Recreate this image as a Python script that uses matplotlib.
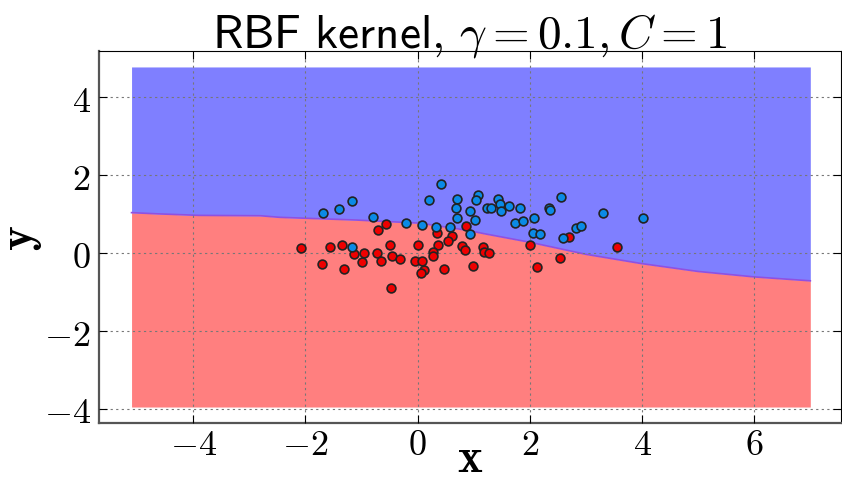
import matplotlib
matplotlib.use('Agg')
import matplotlib.pyplot as plt
from matplotlib.ticker import FuncFormatter

plt.rcParams['mathtext.fontset'] = 'cm'

# decision boundary (class 1 above, class 0 below)
boundary_x = [-5.1, -4.65, -3.9, -2.8, -2.46, -1.09, 0.04, 0.87, 1.22, 2.0, 3.0, 4.0, 5.0, 6.0, 7.0]
boundary_y = [1.04, 1.01, 0.97, 0.96, 0.92, 0.85, 0.77, 0.59, 0.49, 0.28, -0.03, -0.27, -0.47, -0.61, -0.71]
grid_ymin, grid_ymax = -3.95, 4.78

blue_x = [-1.68, -1.41, -1.17, -0.80, -1.17, 0.42, 0.21, 0.71, 0.69, 0.71, 0.93, 1.07, 1.04,
          1.03, 1.23, 1.30, 1.44, 1.47, 1.49, 1.62, 1.73, -0.21, 0.07, 0.32, 0.57, 0.93,
          1.83, 1.87, 2.08, 2.56, 2.35, 2.36, 2.06, 2.19, 2.59, 2.82, 2.91, 3.30, 4.01]
blue_y = [1.03, 1.13, 1.35, 0.94, 0.15, 1.78, 1.36, 1.40, 1.15, 0.91, 1.09, 1.50, 1.37,
          0.84, 1.17, 1.15, 1.40, 1.26, 1.08, 1.22, 0.77, 0.78, 0.73, 0.67, 0.67, 0.48,
          1.15, 0.82, 0.90, 1.44, 1.17, 1.12, 0.51, 0.50, 0.39, 0.65, 0.69, 1.02, 0.91]

red_x = [-0.57, -0.71, -2.08, -1.57, -1.35, -1.14, -0.95, -0.72, -0.50, -0.46, -1.71, -1.00,
         -0.66, -1.31, -0.48, -0.32, 0.87, 0.35, 0.62, 0.54, 0.36, 0.0, 0.79, 0.85, 1.17,
         1.19, 1.27, 0.28, 0.28, -0.04, 0.08, 0.12, 0.06, 0.47, 0.99, 2.69, 2.00, 2.53,
         2.12, 3.56]
red_y = [0.76, 0.60, 0.12, 0.15, 0.20, -0.02, 0.0, 0.0, 0.21, -0.08, -0.27, -0.22,
         -0.19, -0.40, -0.89, -0.14, 0.69, 0.52, 0.43, 0.30, 0.21, 0.21, 0.19, 0.07, 0.16,
         0.04, 0.01, 0.03, -0.08, -0.21, -0.21, -0.42, -0.50, -0.40, -0.33, 0.42, 0.22, -0.12,
         -0.36, 0.15]

fig = plt.figure(figsize=(8.42, 4.85), dpi=100)
ax = fig.add_axes([0.1176, 0.1258, 0.8814, 0.767])

ax.fill_between(boundary_x, grid_ymin, boundary_y, color='#ff7f7f', lw=0, zorder=1)
ax.fill_between(boundary_x, boundary_y, grid_ymax, color='#7f7fff', lw=0, zorder=1)
ax.plot(boundary_x, boundary_y, color='#9050e0', lw=1.2, zorder=2)

ax.scatter(red_x, red_y, s=40, c='#ee0000', edgecolors='#222222', linewidths=1.2, zorder=4)
ax.scatter(blue_x, blue_y, s=40, c='#0a8ae6', edgecolors='#222222', linewidths=1.2, zorder=4)

ax.set_xlim(-5.68, 7.55)
ax.set_ylim(-4.36, 5.19)
ax.set_xticks([-4, -2, 0, 2, 4, 6])
ax.set_yticks([-4, -2, 0, 2, 4])
fmt = FuncFormatter(lambda v, pos: f'${v:g}$')
ax.xaxis.set_major_formatter(fmt)
ax.yaxis.set_major_formatter(fmt)
ax.tick_params(direction='in', top=True, right=True, labelsize=26, length=6)
ax.tick_params(axis='x', pad=3)
ax.tick_params(axis='y', pad=6)
ax.grid(True, color='#777777', linestyle=(0, (2, 3)), linewidth=0.8, zorder=0)
ax.set_axisbelow(False)
for side in ['left', 'bottom']:
    ax.spines[side].set_linewidth(1.6)
    ax.spines[side].set_color('#555555')

ax.set_xlabel(r'$\mathbf{x}$', fontsize=34, va='bottom')
ax.xaxis.set_label_coords(0.5, -0.157)
ax.set_ylabel(r'$\mathbf{y}$', fontsize=34)
ax.yaxis.set_label_coords(-0.074, 0.5)
ax.set_title(r'$\mathsf{RBF\ kernel,}\,\gamma = 0.1, C = 1$', fontsize=34, pad=3)

fig.savefig('out.png', dpi=100)
